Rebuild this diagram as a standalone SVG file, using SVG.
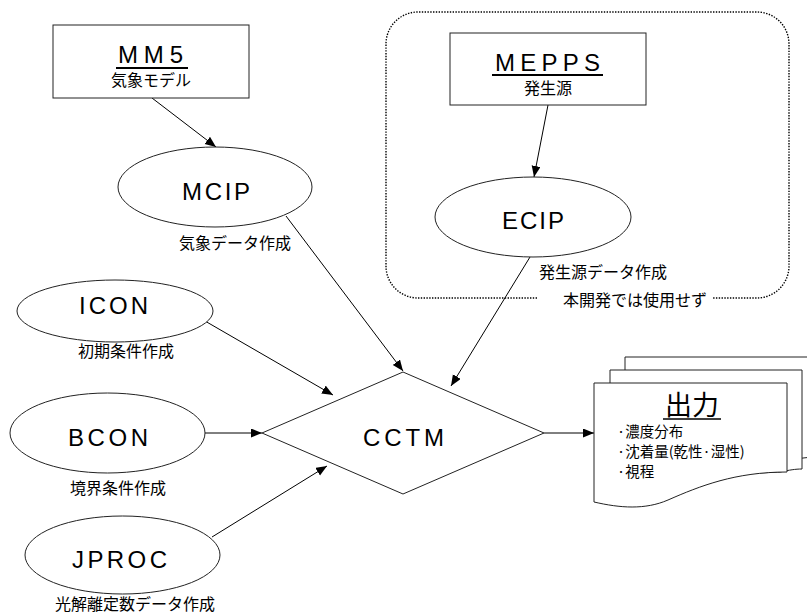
<svg xmlns="http://www.w3.org/2000/svg" width="807" height="615" viewBox="0 0 807 615">
<style>
.box{fill:#fff;stroke:#222;stroke-width:1}
.lat{font-family:"Liberation Sans",Arial,sans-serif;font-size:24px;fill:#000}
.jp{font-family:"Noto Sans CJK JP","Noto Sans",sans-serif;font-size:16px;fill:#000}
.it{font-family:"Noto Sans CJK JP","Noto Sans",sans-serif;font-size:14.5px;fill:#000}
.ul{stroke:#000;stroke-width:2}
.con{fill:none;stroke:#000;stroke-width:1;marker-end:url(#arr)}
</style>
<defs>
<marker id="arr" markerUnits="userSpaceOnUse" markerWidth="12" markerHeight="10" refX="11" refY="4.5" orient="auto">
<path d="M0,0 L11,4.5 L0,9 z" fill="#000"/>
</marker>
</defs>
<rect width="807" height="615" fill="#fff"/>

<g id="scope">
<path d="M537,298 H418 A32,32 0 0 1 386,266 V44 A32,32 0 0 1 418,12 H757 A32,32 0 0 1 789,44 V266 A32,32 0 0 1 757,298 H713" fill="none" stroke="#000" stroke-width="1.4" stroke-dasharray="1.4,1.4"/>
<text class="jp" x="563" y="306">本開発では使用せず</text>
</g>

<g id="connectors">
<path class="con" d="M152,98 L216,147"/>
<path class="con" d="M548,105 L534,177"/>
<path class="con" d="M286,216 L403,371"/>
<path class="con" d="M530,257 L451,386"/>
<path class="con" d="M205,321 L333,395"/>
<path class="con" d="M205,433 L262,433"/>
<path class="con" d="M212,537 L327,466"/>
<path class="con" d="M544,433 L594,433"/>
</g>

<g id="mm5">
<rect class="box" x="53" y="25" width="196" height="73"/>
<text class="lat" x="118" y="63" textLength="65">MM5</text>
<line class="ul" x1="116" y1="68" x2="188" y2="68"/>
<text class="jp" x="111" y="86">気象モデル</text>
</g>

<g id="mepps">
<rect class="box" x="450" y="33" width="196" height="72"/>
<text class="lat" x="495" y="71" textLength="105">MEPPS</text>
<line class="ul" x1="492" y1="75" x2="603" y2="75"/>
<text class="jp" x="524" y="94">発生源</text>
</g>

<g id="mcip">
<ellipse class="box" cx="215" cy="187" rx="97" ry="40"/>
<text class="lat" x="182" y="200" textLength="68">MCIP</text>
<text class="jp" x="179" y="249">気象データ作成</text>
</g>

<g id="ecip">
<ellipse class="box" cx="533" cy="217" rx="98" ry="40"/>
<text class="lat" x="502" y="229" textLength="62">ECIP</text>
<text class="jp" x="539" y="278">発生源データ作成</text>
</g>

<g id="icon">
<ellipse class="box" cx="115" cy="311" rx="98" ry="31"/>
<text class="lat" x="79" y="314" textLength="69">ICON</text>
<text class="jp" x="78" y="357">初期条件作成</text>
</g>

<g id="bcon">
<ellipse class="box" cx="107.5" cy="433" rx="97.5" ry="40"/>
<text class="lat" x="68" y="446" textLength="80">BCON</text>
<text class="jp" x="70" y="494">境界条件作成</text>
</g>

<g id="jproc">
<ellipse class="box" cx="122.5" cy="555" rx="97.5" ry="39"/>
<text class="lat" x="72" y="568" textLength="95">JPROC</text>
<text class="jp" x="55" y="610">光解離定数データ作成</text>
</g>

<g id="cctm">
<polygon class="box" points="262,433 403,372 544,433 403,494"/>
<text class="lat" x="363" y="446" textLength="81">CCTM</text>
</g>

<g id="output">
<path class="box" d="M625,370 V357 H820 V457 C790,457 760,466 720,480 L625,480 Z"/>
<path class="box" d="M610,383 V370 H802 V469 C795,469 790,470 780,472 L610,480 Z"/>
<path class="box" d="M594,383 H787 V472 C735,472 700,486 668,500 C645,510 620,508 594,502 Z"/>
<text x="665" y="415" style="font-family:'Noto Sans CJK JP',sans-serif;font-size:27px">出力</text>
<line x1="663" y1="419" x2="721" y2="419" stroke="#000" stroke-width="1.6"/>
<text class="it" x="617" y="437">·濃度分布</text>
<text class="it" x="617" y="457">·沈着量(乾性·湿性)</text>
<text class="it" x="617" y="477">·視程</text>
</g>
</svg>
